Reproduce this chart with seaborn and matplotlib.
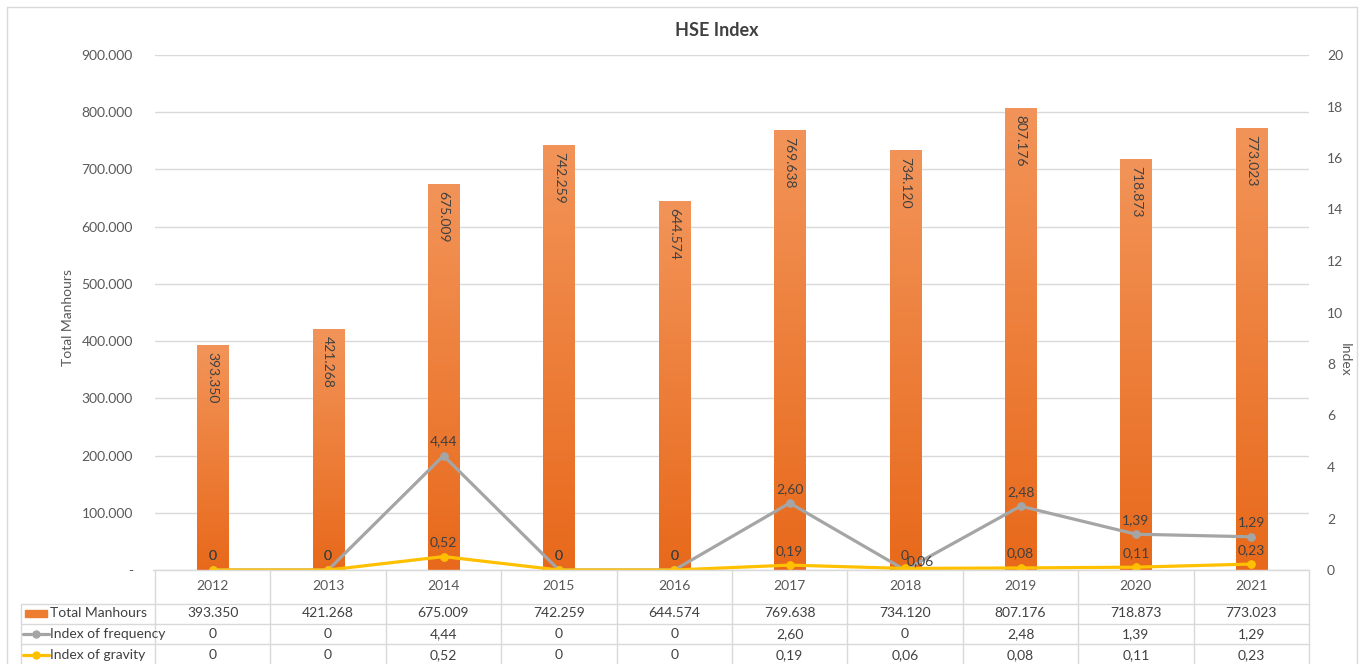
import numpy as np
import pandas as pd
import matplotlib
matplotlib.use("Agg")
import matplotlib.pyplot as plt
import matplotlib.transforms as mtransforms
from matplotlib.colors import LinearSegmentedColormap
from matplotlib.lines import Line2D
from matplotlib.patches import Rectangle
import seaborn as sns

# ---- data ----
years = ["2012", "2013", "2014", "2015", "2016", "2017", "2018", "2019", "2020", "2021"]
manhours = [393350, 421268, 675009, 742259, 644574, 769638, 734120, 807176, 718873, 773023]
freq_index = [0, 0, 4.44, 0, 0, 2.60, 0, 2.48, 1.39, 1.29]
grav_index = [0, 0, 0.52, 0, 0, 0.19, 0.06, 0.08, 0.11, 0.23]
series_names = ["Total Manhours", "Index of frequency", "Index of gravity"]
title = "HSE Index"

sns.set_theme(style="white")
plt.rcParams["font.family"] = ["Lato", "DejaVu Sans"]

W, H = 1364, 664
fig = plt.figure(figsize=(W / 100, H / 100), dpi=100)

def fx(p):
    return p / W

def fy(p):
    return 1 - p / H

L, R, T, B = 155, 1309, 55, 570
ax = fig.add_axes([fx(L), fy(B), fx(R - L), (B - T) / H])
ax2 = ax.twinx()

ORANGE = "#ED7D31"
GRAY = "#A5A5A5"
GOLD = "#FFC000"
TXT = "#595959"
DTXT = "#404040"
GRID = "#D9D9D9"

df = pd.DataFrame({"Year": years, "Manhours": manhours})
sns.barplot(data=df, x="Year", y="Manhours", ax=ax, color=ORANGE, width=0.27,
            saturation=1, zorder=2)
ax.set_xlim(-0.5, len(years) - 0.5)
ax.set_ylim(0, 900000)
ax.set_yticks(np.arange(0, 900001, 100000))

def fmt_left(v, pos=None):
    if v == 0:
        return "-"
    return f"{v:,.0f}".replace(",", ".")

ax.yaxis.set_major_formatter(matplotlib.ticker.FuncFormatter(fmt_left))
ax.tick_params(axis="y", length=0, pad=16, labelsize=10, labelcolor=TXT)
ax.tick_params(axis="x", length=0, labelbottom=False)
ax.set_xlabel("")
ax.set_ylabel("")
ax.grid(axis="y", color=GRID, linewidth=1, zorder=0)
ax.set_axisbelow(True)
for s in ax.spines.values():
    s.set_visible(False)

# gradient fill bars
cmap = LinearSegmentedColormap.from_list("bar", ["#E8691B", "#F29459"])
grad = np.linspace(0, 1, 256).reshape(-1, 1)
for p in ax.patches:
    x0, y0 = p.get_x(), p.get_y()
    w, h = p.get_width(), p.get_height()
    im = ax.imshow(grad, extent=[x0, x0 + w, y0, y0 + h], origin="lower",
                   cmap=cmap, aspect="auto", zorder=2.5)
    im.set_clip_path(p)
ax.set_xlim(-0.5, len(years) - 0.5)
ax.set_ylim(0, 900000)

# bar labels
for i, v in enumerate(manhours):
    ax.annotate(fmt_left(v), xy=(i, v), xytext=(0, -5), textcoords="offset points",
                rotation=270, ha="center", va="top", fontsize=10, color=DTXT, zorder=5)

# lines
pos = np.arange(len(years))
sns.lineplot(x=pos, y=freq_index, ax=ax2, color=GRAY, linewidth=2.3, marker="o",
             markersize=5.5, markeredgecolor=GRAY, zorder=4)
sns.lineplot(x=pos, y=grav_index, ax=ax2, color=GOLD, linewidth=2.3, marker="o",
             markersize=5.5, markeredgecolor=GOLD, zorder=4)
ax2.set_ylim(0, 20)
ax2.set_yticks(np.arange(0, 21, 2))
ax2.tick_params(axis="y", length=0, pad=13, labelsize=10, labelcolor=TXT)
ax2.set_ylabel("")
for s in ax2.spines.values():
    s.set_visible(False)
ax2.set_xlim(-0.5, len(years) - 0.5)

def fmt_idx(v):
    return "0" if v == 0 else f"{v:.2f}".replace(".", ",")

for i, v in enumerate(freq_index):
    ax2.annotate(fmt_idx(v), xy=(i, v), xytext=(0, 6), textcoords="offset points",
                 ha="center", va="bottom", fontsize=10, color=DTXT, zorder=6)
for i, v in enumerate(grav_index):
    if years[i] == "2018":
        ax2.annotate(fmt_idx(v), xy=(i, v), xytext=(1, 1), textcoords="offset points",
                     ha="left", va="bottom", fontsize=10, color=DTXT, zorder=6)
    else:
        ax2.annotate(fmt_idx(v), xy=(i, v), xytext=(0, 6), textcoords="offset points",
                     ha="center", va="bottom", fontsize=10, color=DTXT, zorder=6)

# title and axis titles
fig.text(fx(717), fy(31), title, ha="center", va="center", fontsize=13,
         fontweight="bold", color=DTXT)
fig.text(fx(68), fy(318), "Total Manhours", rotation=90, ha="center", va="center",
         fontsize=10, color=TXT)
fig.text(fx(1345), fy(360), "Index", rotation=270, ha="center", va="center",
         fontsize=10, color=TXT)

# outer border
for xs, ys in [([7, 7], [7, 664]), ([7, 1357], [7, 7]), ([1357, 1357], [7, 664])]:
    fig.add_artist(Line2D([fx(x) for x in xs], [fy(y) for y in ys], color=GRID,
                          linewidth=1, transform=fig.transFigure))

# data table
btr = mtransforms.blended_transform_factory(ax.transData, fig.transFigure)
n = len(years)
# header row top line (axis base)
fig.add_artist(Line2D([fx(153), fx(R)], [fy(B), fy(B)], color=GRID, lw=1,
                      transform=fig.transFigure))
for yy in [604, 624, 644]:
    fig.add_artist(Line2D([fx(21), fx(R)], [fy(yy), fy(yy)], color=GRID, lw=1,
                          transform=fig.transFigure))
fig.add_artist(Line2D([fx(21), fx(21)], [fy(604), fy(664)], color=GRID, lw=1,
                      transform=fig.transFigure))
for k in range(n + 1):
    fig.add_artist(Line2D([k - 0.5, k - 0.5], [fy(B), fy(664)], color=GRID, lw=1,
                          transform=btr))
row_y = [613, 634, 655]
for i, yr in enumerate(years):
    fig.text(i, fy(586), yr, transform=btr, ha="center", va="center", fontsize=10, color=TXT)
    fig.text(i, fy(row_y[0]), fmt_left(manhours[i]), transform=btr, ha="center",
             va="center", fontsize=10, color=DTXT)
    fig.text(i, fy(row_y[1]), fmt_idx(freq_index[i]), transform=btr, ha="center",
             va="center", fontsize=10, color=DTXT)
    fig.text(i, fy(row_y[2]), fmt_idx(grav_index[i]), transform=btr, ha="center",
             va="center", fontsize=10, color=DTXT)

# legend keys in table
fig.add_artist(Rectangle((fx(25), fy(617)), fx(22), 7 / H, color=ORANGE,
                         transform=fig.transFigure))
for yy, c in [(row_y[1], GRAY), (row_y[2], GOLD)]:
    fig.add_artist(Line2D([fx(23), fx(49)], [fy(yy), fy(yy)], color=c, lw=2.3,
                          transform=fig.transFigure))
    fig.add_artist(Line2D([fx(36)], [fy(yy)], color=c, marker="o", markersize=5,
                          transform=fig.transFigure))
for yy, name in zip(row_y, series_names):
    fig.text(fx(50), fy(yy), name, ha="left", va="center", fontsize=10, color=DTXT)

fig.savefig("out.png", dpi=100)
